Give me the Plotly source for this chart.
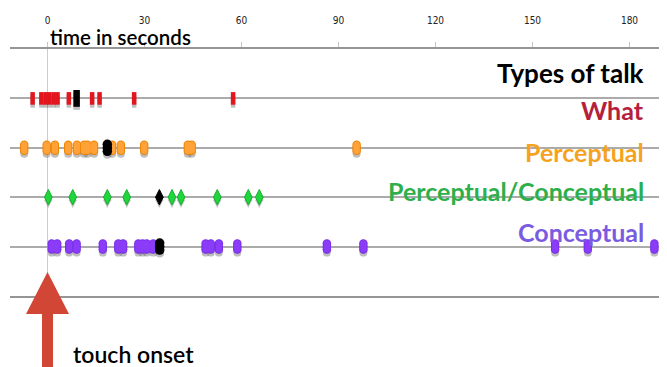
import plotly.graph_objects as go

# ---------------- data (seconds relative to touch onset) ----------------
row_names = ["What", "Perceptual", "Perceptual/Conceptual", "Conceptual"]
row_colors = ["#B5203A", "#F5A31F", "#2DB04B", "#7A5CE0"]
tick_values = [0, 30, 60, 90, 120, 150, 180]

what_times = [-4.6, -1.9, -0.6, 0.6, 1.9, 3.1, 6.6, 13.8, 16.1, 26.8, 57.4]
what_black = [9.0]

perceptual_times = [-7.2, -0.25, 2.3, 6.4, 9.1, 11.3, 12.4, 14.4, 20.0, 22.7,
                    29.9, 43.4, 44.6, 95.6]
perceptual_black = [18.5]

percon_times = [0.25, 7.8, 18.5, 24.5, 38.5, 41.3, 52.5, 62.1, 65.5]
percon_black = [34.6]

conceptual_times = [1.3, 3.0, 6.7, 9.0, 17.1, 21.9, 23.4, 28.1, 29.4, 30.7, 32.7,
                    48.9, 50.5, 53.0, 58.7, 86.4, 97.7, 157.0, 167.1, 187.7]
conceptual_black = [34.7]

# ---------------- layout geometry ----------------
# The page body has an 8px margin, so the figure is drawn 8px smaller and
# all target positions are measured in window pixels then shifted by OFF.
OFF = 8
WIN_W, WIN_H = 667, 367
W, H = WIN_W - OFF, WIN_H - OFF
PLOT_L, PLOT_R, PLOT_T, PLOT_B = 10, 667, 49, 296      # window pixels
M_L, M_R, M_T, M_B = PLOT_L - OFF, WIN_W - PLOT_R, PLOT_T - OFF, WIN_H - PLOT_B
PLOT_H = PLOT_B - PLOT_T
N_ROWS = 5
PX = PLOT_H / N_ROWS          # pixels per y unit
X_RANGE = [-11.6, 191.6]


def dy(px):
    return px / PX            # y axis reversed: positive = downwards


fig = go.Figure()
SHADOW = "rgba(110,110,110,0.45)"


def add_pts(xs, row, symbol, size, color, line_color=None, line_w=0, off=0.0):
    mk = dict(symbol=symbol, size=size, color=color)
    if line_color is not None:
        mk["line"] = dict(color=line_color, width=line_w)
    fig.add_trace(go.Scatter(x=xs, y=[row + off] * len(xs), mode="markers",
                             marker=mk, hoverinfo="x", showlegend=False))


def add_ellipses(xs, row, w, h, fill, edge):
    d = (h - w) / 2.0
    offs = [-d, 0, d]
    for o in offs:   # shadow
        add_pts(xs, row, "circle", w + 1, SHADOW, off=dy(o + 3))
    for o in offs:   # outline
        add_pts(xs, row, "circle", w + 1.5, edge, off=dy(o))
    for o in offs:   # fill
        add_pts(xs, row, "circle", w - 0.5, fill, off=dy(o))


# Row 1: What (narrow red bars)
for xs, sz, lw, col in [(what_times, 9, 4.5, "#E3161E"), (what_black, 12, 6.5, "#000000")]:
    fig.add_trace(go.Scatter(x=xs, y=[1 + dy(3)] * len(xs), mode="markers",
                             marker=dict(symbol="line-ns", size=sz,
                                         line=dict(color=SHADOW, width=lw)),
                             hoverinfo="skip", showlegend=False))
    fig.add_trace(go.Scatter(x=xs, y=[1] * len(xs), mode="markers",
                             marker=dict(symbol="line-ns", size=sz,
                                         line=dict(color=col, width=lw)),
                             hoverinfo="x", showlegend=False))

# Row 2: Perceptual (orange ellipses)
add_ellipses(perceptual_times, 2, 7, 13, "#FFA238", "#F08400")
add_ellipses(perceptual_black, 2, 8, 15, "#000000", "#000000")

# Row 3: Perceptual/Conceptual (green diamonds)
for xs, col, edge in [(percon_times, "#20D63C", "#12B02C"), (percon_black, "#000000", "#000000")]:
    add_pts(xs, 3, "diamond-tall", 11, SHADOW, off=dy(3))
    add_pts(xs, 3, "diamond-tall", 11, col, edge, 1)

# Row 4: Conceptual (purple ellipses)
add_ellipses(conceptual_times, 4, 7, 13, "#8B3CF8", "#7A2EE8")
add_ellipses(conceptual_black, 4, 8, 15, "#000000", "#000000")

# ---------------- annotations ----------------
def px_x(x):
    return (x - PLOT_L) / (PLOT_R - PLOT_L)


def px_y(y):
    return (PLOT_B - y) / PLOT_H


ann = []
TXT_FONT = "Lato, Open Sans, sans-serif"
ann.append(dict(text="time in seconds", x=px_x(48), y=px_y(37), xanchor="left",
                yanchor="middle",
                font=dict(family=TXT_FONT, size=20.5, color="#000000", weight=600)))
ann.append(dict(text="<b>Types of talk</b>", x=px_x(646), y=px_y(73), xanchor="right",
                yanchor="middle", font=dict(family=TXT_FONT, size=26, color="#000000")))
label_y = [110, 152, 191, 232]
for name, col, yy in zip(row_names, row_colors, label_y):
    ann.append(dict(text=f"<b>{name}</b>", x=px_x(646), y=px_y(yy), xanchor="right",
                    yanchor="middle", font=dict(family=TXT_FONT, size=25, color=col)))
ann.append(dict(text="touch onset", x=px_x(71), y=px_y(354), xanchor="left",
                yanchor="middle",
                font=dict(family=TXT_FONT, size=23, color="#000000", weight=600)))
for a in ann:
    a.update(xref="paper", yref="paper", showarrow=False)

# touch-onset arrow anchored at t = 0
arrow = dict(type="path", xref="x", xsizemode="pixel", xanchor=0,
             yref="paper", ysizemode="pixel", yanchor=0,
             path="M0,24 L21.5,-18 L5.5,-18 L5.5,-80 L-5.5,-80 L-5.5,-18 L-21.5,-18 Z",
             fillcolor="#D24636", line=dict(width=0), layer="above")

fig.update_layout(
    width=W, height=H,
    margin=dict(l=M_L, r=M_R, t=M_T, b=M_B),
    plot_bgcolor="white", paper_bgcolor="white",
    annotations=ann, shapes=[arrow],
    xaxis=dict(range=X_RANGE, side="top", tickvals=tick_values,
               ticks="outside", ticklen=5, tickcolor="#C4C4C4", tickwidth=1,
               ticklabelstandoff=14,
               tickfont=dict(family="Liberation Sans Narrow, DejaVu Sans Condensed, sans-serif",
                             size=10, color="#222222"),
               showline=True, mirror=True, linecolor="#959595", linewidth=2,
               showgrid=False, zeroline=True, zerolinecolor="#CDCDCD", zerolinewidth=1,
               fixedrange=True),
    yaxis=dict(range=[N_ROWS, 0], tickvals=[1, 2, 3, 4, 5], showticklabels=False,
               showgrid=True, gridcolor="#ABABAB", gridwidth=1.5,
               zeroline=False, showline=False, fixedrange=True),
)

fig.write_html("out.html")
